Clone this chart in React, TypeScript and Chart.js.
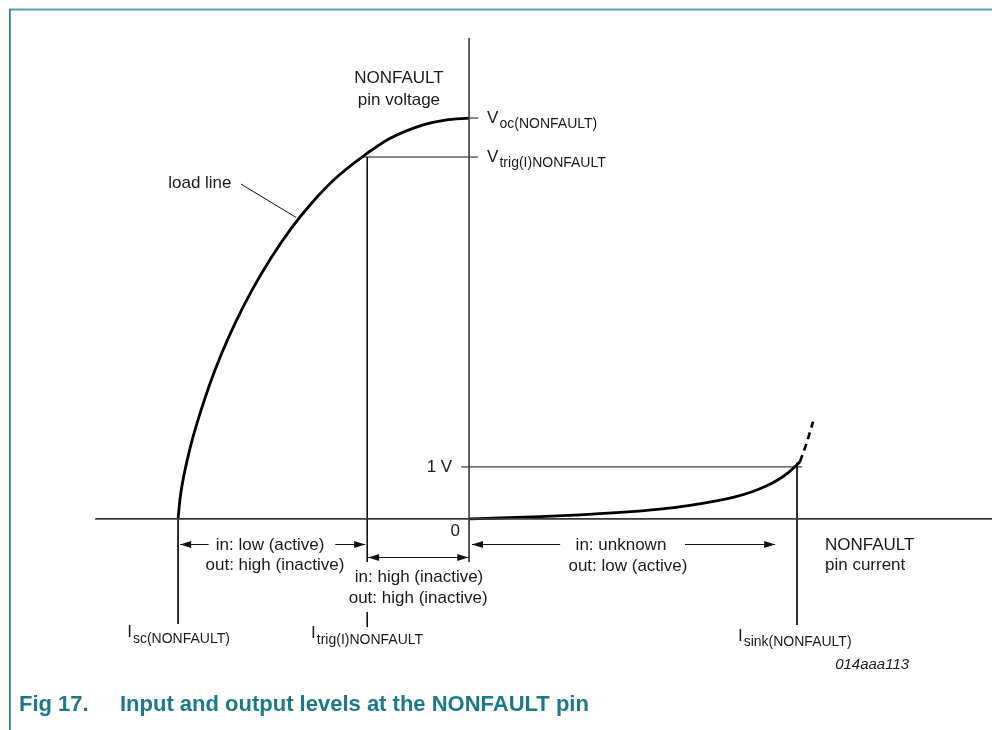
import React, { useEffect, useRef } from 'react';
import { Chart, registerables } from 'chart.js';

Chart.register(...registerables);

// Scale extents (current: arbitrary units, voltage: V)
const X_MIN = -16.12;
const X_MAX = 17.97;
const Y_MIN = -4.06;
const Y_MAX = 9.98;

// Characteristic levels
const I_SC = -10;
const I_TRIG = -3.5;
const I_SINK = 11.27;
const V_OC = 7.71;
const V_TRIG = 6.96;
const V_ONE = 1;

// Load line (source side)
const loadLineI = [-10, -9.93, -9.83, -9.69, -9.52, -9.24, -8.9, -8.49, -8.01, -7.46, -6.84, -6.15, -5.4, -4.57, -3.68, -2.71, -1.68, -0.82, 0];
const loadLineV = [0, 0.4, 0.75, 1.12, 1.51, 2.04, 2.61, 3.2, 3.8, 4.4, 4.99, 5.56, 6.08, 6.56, 6.96, 7.32, 7.56, 7.67, 7.71];

// Sink characteristic
const sinkI = [0, 1.07, 2.44, 3.81, 5.19, 6.56, 7.59, 8.45, 9.14, 9.73, 10.21, 10.62, 10.96, 11.27, 11.37];
const sinkV = [0, 0.017, 0.044, 0.079, 0.125, 0.19, 0.26, 0.34, 0.425, 0.523, 0.631, 0.752, 0.885, 1.04, 1.1];
const sinkDashI = [11.37, 11.6, 11.82];
const sinkDashV = [1.1, 1.46, 1.87];

// Text labels
const axisTitleV = ['NONFAULT', 'pin voltage'];
const axisTitleI = ['NONFAULT', 'pin current'];
const regionLow = ['in: low (active)', 'out: high (inactive)'];
const regionHigh = ['in: high (inactive)', 'out: high (inactive)'];
const regionUnknown = ['in: unknown', 'out: low (active)'];
const levelSymbols = ['V', 'V', 'I', 'I', 'I'];
const levelSubs = ['oc(NONFAULT)', 'trig(I)NONFAULT', 'sc(NONFAULT)', 'trig(I)NONFAULT', 'sink(NONFAULT)'];
const captionNum = 'Fig 17.';
const captionText = 'Input and output levels at the NONFAULT pin';
const figCode = '014aaa113';

const FONT = '"Liberation Sans", Arial, Helvetica, sans-serif';
const TEXT_COLOR = '#1a1a1a';

const pts = (xs: number[], ys: number[]) => xs.map((x, i) => ({ x, y: ys[i] }));

const seg = (data: { x: number; y: number }[], width: number, color = '#111', extra: any = {}) => ({
  data,
  showLine: true,
  borderColor: color,
  backgroundColor: color,
  borderWidth: width,
  pointRadius: 0,
  pointHoverRadius: 0,
  fill: false,
  tension: 0,
  ...extra,
});

const annotations = {
  id: 'annotations',
  afterDatasetsDraw(chart: any) {
    const ctx: CanvasRenderingContext2D = chart.ctx;
    const xs = chart.scales.x;
    const ys = chart.scales.y;
    const px = (v: number) => xs.getPixelForValue(v);
    const py = (v: number) => ys.getPixelForValue(v);
    ctx.save();

    // page frame
    ctx.fillStyle = '#a9d4d8';
    ctx.fillRect(9, 8, 983, 1);
    ctx.fillStyle = '#5a9fa8';
    ctx.fillRect(9, 9, 983, 1.5);
    ctx.fillStyle = '#2c8596';
    ctx.fillRect(9, 9, 1.8, 721);

    const drawText = (s: string, x: number, y: number, align: CanvasTextAlign, size: number, style: string, color: string) => {
      ctx.font = style + size + 'px ' + FONT;
      ctx.textAlign = align;
      ctx.textBaseline = 'middle';
      ctx.fillStyle = color;
      ctx.fillText(s, x, y);
    };
    const t = (s: string, x: number, y: number, align: CanvasTextAlign = 'left') => drawText(s, x, y, align, 17, '', TEXT_COLOR);

    // axis titles
    t(axisTitleV[0], px(-2.41), py(8.48), 'center');
    t(axisTitleV[1], px(-2.41), py(8.06), 'center');
    t(axisTitleI[0], px(12.23), py(-0.5));
    t(axisTitleI[1], px(12.23), py(-0.9));

    // level symbols with subscripts
    const symX = [0.62, 0.62, -11.75, -5.43, 9.24];
    const symY = [V_OC, V_TRIG, -2.19, -2.21, -2.25];
    for (let i = 0; i < levelSymbols.length; i++) {
      const x0 = px(symX[i]);
      const y0 = py(symY[i]);
      drawText(levelSymbols[i], x0, y0, 'left', 17, '', TEXT_COLOR);
      ctx.font = '17px ' + FONT;
      const w = ctx.measureText(levelSymbols[i]).width;
      drawText(levelSubs[i], x0 + w + 1, y0 + 6, 'left', 14, '', TEXT_COLOR);
    }

    t('load line', px(-10.34), py(6.46));
    t('1 V', px(-0.58), py(V_ONE), 'right');
    t('0', px(-0.48), py(-0.23), 'center');

    t(regionLow[0], px(-6.84), py(-0.5), 'center');
    t(regionLow[1], px(-6.67), py(-0.9), 'center');
    t(regionHigh[0], px(-1.72), py(-1.13), 'center');
    t(regionHigh[1], px(-1.75), py(-1.52), 'center');
    t(regionUnknown[0], px(5.22), py(-0.5), 'center');
    t(regionUnknown[1], px(5.46), py(-0.92), 'center');

    drawText(figCode, px(12.58), py(-2.81), 'left', 15, 'italic ', TEXT_COLOR);

    // caption
    drawText(captionNum, 19, 705, 'left', 22, 'bold ', '#1b7a89');
    drawText(captionText, 120, 705, 'left', 22, 'bold ', '#1b7a89');

    // arrows
    ctx.strokeStyle = '#111';
    ctx.fillStyle = '#111';
    ctx.lineWidth = 1;
    const head = (tipX: number, y: number, dir: number) => {
      ctx.beginPath();
      ctx.moveTo(tipX, y);
      ctx.lineTo(tipX - dir * 11, y - 3.5);
      ctx.lineTo(tipX - dir * 11, y + 3.5);
      ctx.closePath();
      ctx.fill();
    };
    const arrow = (x1: number, x2: number, y: number, headLeft: boolean, headRight: boolean) => {
      const a = px(x1), b = px(x2), yy = Math.round(py(y)) + 0.5;
      ctx.beginPath();
      ctx.moveTo(a, yy);
      ctx.lineTo(b, yy);
      ctx.stroke();
      if (headLeft) head(a, yy, -1);
      if (headRight) head(b, yy, 1);
    };
    arrow(-9.93, -8.95, -0.49, true, false);
    arrow(-4.6, -3.57, -0.49, false, true);
    arrow(-3.47, -0.03, -0.725, true, true);
    arrow(0.1, 3.13, -0.49, true, false);
    arrow(7.42, 10.52, -0.49, false, true);

    ctx.restore();
  },
};

export default function App() {
  const ref = useRef<HTMLCanvasElement | null>(null);
  useEffect(() => {
    if (!ref.current) return;
    const axisColor = '#3a3a3a';
    const chart = new Chart(ref.current, {
      type: 'scatter',
      data: {
        datasets: [
          // axes
          seg(pts([-12.85, X_MAX], [0, 0]), 1.6, axisColor),
          seg(pts([0, 0], [0, 9.25]), 1.6, axisColor),
          seg(pts([0, 0], [0, -0.83]), 1, axisColor),
          // level lines
          seg(pts([0, 0.31], [V_OC, V_OC]), 1),
          seg(pts([-3.68, 0.31], [V_TRIG, V_TRIG]), 1),
          seg(pts([-0.27, 11.44], [V_ONE, V_ONE]), 1),
          seg(pts([I_SC, I_SC], [0, -2.02]), 1),
          seg(pts([I_TRIG, I_TRIG], [V_TRIG, -0.83]), 1),
          seg(pts([I_TRIG, I_TRIG], [-1.79, -2.08]), 1),
          seg(pts([I_SINK, I_SINK], [1.08, -2.04]), 1),
          // load line pointer
          seg(pts([-7.84, -5.95], [6.44, 5.8]), 1),
          // curves
          seg(pts(loadLineI, loadLineV), 2.8, '#000', { cubicInterpolationMode: 'monotone' }),
          seg(pts(sinkI, sinkV), 2.8, '#000', { cubicInterpolationMode: 'monotone' }),
          seg(pts(sinkDashI, sinkDashV), 2.6, '#000', { borderDash: [7, 5], cubicInterpolationMode: 'monotone' }),
        ] as any,
      },
      options: {
        animation: false,
        responsive: false,
        maintainAspectRatio: false,
        layout: { padding: 0 },
        events: [],
        plugins: { legend: { display: false }, tooltip: { enabled: false } },
        scales: {
          x: { type: 'linear', min: X_MIN, max: X_MAX, display: false },
          y: { type: 'linear', min: Y_MIN, max: Y_MAX, display: false },
        },
      },
      plugins: [annotations],
    });
    return () => chart.destroy();
  }, []);
  return (
    <div style={{ position: 'fixed', left: 0, top: 0, width: 992, height: 730, background: '#fff' }}>
      <canvas ref={ref} width={992} height={730} style={{ display: 'block' }} />
    </div>
  );
}
